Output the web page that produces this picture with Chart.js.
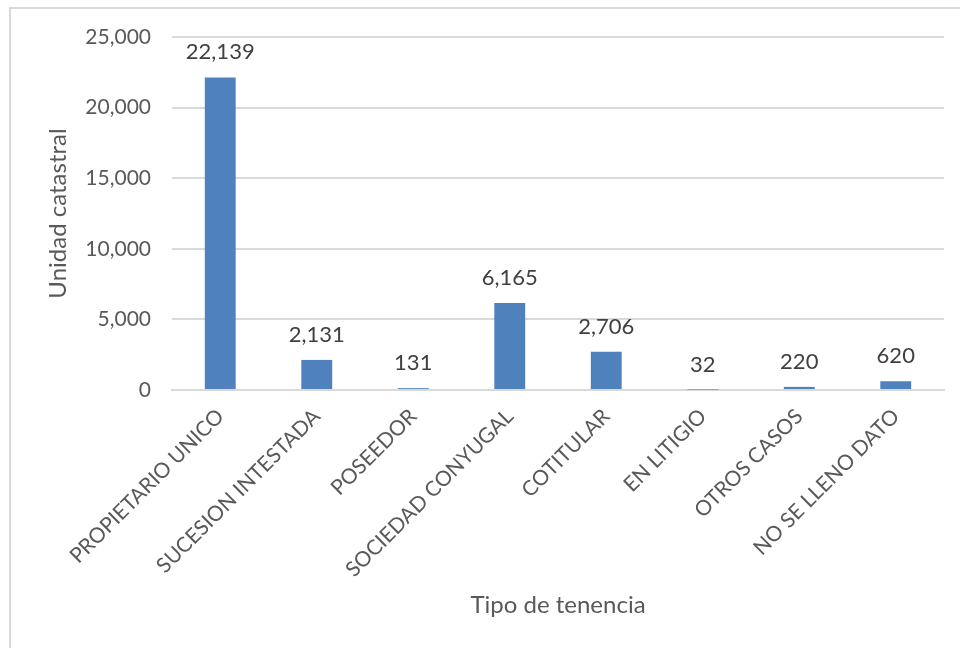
<!DOCTYPE html>
<html>
<head>
<meta charset="utf-8">
<script src="https://cdn.jsdelivr.net/npm/chart.js@4"></script>
<style>
  html, body { margin: 0; padding: 0; background: #fff; }
  #wrap { position: relative; width: 960px; height: 648px; overflow: hidden; }
  #frame { position: absolute; left: 9px; top: 7px; width: 980px; height: 680px; border: 2px solid #d9d9d9; }
  #chart { position: absolute; left: 0; top: 0; }
</style>
</head>
<body>
<div id="wrap">
  <div id="frame"></div>
  <canvas id="chart" width="960" height="648"></canvas>
</div>
<script>
const categories = ["PROPIETARIO UNICO", "SUCESION INTESTADA", "POSEEDOR", "SOCIEDAD CONYUGAL", "COTITULAR", "EN LITIGIO", "OTROS CASOS", "NO SE LLENO DATO"];
const unidades = [22139, 2131, 131, 6165, 2706, 32, 220, 620];
const yTicks = [0, 5000, 10000, 15000, 20000, 25000];

const FONT = "Lato, 'Open Sans', sans-serif";
const fmt = v => v.toLocaleString("en-US");

// value labels above each bar
const barLabels = {
  id: "barLabels",
  afterDatasetsDraw(chart) {
    const ctx = chart.ctx;
    const meta = chart.getDatasetMeta(0);
    ctx.save();
    ctx.font = "22px " + FONT;
    ctx.fillStyle = "#404040";
    ctx.textAlign = "center";
    ctx.textBaseline = "middle";
    meta.data.forEach((bar, i) => {
      ctx.fillText(fmt(unidades[i]), bar.x, bar.y - 25);
    });
    ctx.restore();
  }
};

new Chart(document.getElementById("chart"), {
  type: "bar",
  data: {
    labels: categories,
    datasets: [{
      label: "Unidad catastral",
      data: unidades,
      backgroundColor: "#4f81bd",
      categoryPercentage: 1,
      barPercentage: 0.32
    }]
  },
  options: {
    responsive: false,
    animation: false,
    layout: { padding: { left: 20, top: 37, right: 16, bottom: 0 } },
    plugins: { legend: { display: false }, tooltip: { enabled: false } },
    scales: {
      x: {
        grid: { display: false },
        border: { color: "#d9d9d9", width: 2 },
        ticks: {
          color: "#595959",
          font: { family: FONT, size: 21 },
          minRotation: 45,
          maxRotation: 45,
          padding: 6
        },
        title: {
          display: true,
          text: "Tipo de tenencia",
          color: "#595959",
          font: { family: FONT, size: 24 },
          padding: { top: 0, bottom: 28 }
        },
        afterFit(scale) { scale.height = 258; }
      },
      y: {
        min: 0,
        max: 25000,
        afterBuildTicks(scale) { scale.ticks = yTicks.map(v => ({ value: v })); },
        grid: { color: "#d9d9d9", lineWidth: 2, drawTicks: false },
        border: { display: false },
        ticks: {
          color: "#595959",
          font: { family: FONT, size: 21 },
          padding: 21,
          callback: v => fmt(v)
        },
        title: {
          display: true,
          text: "Unidad catastral",
          color: "#595959",
          font: { family: FONT, size: 24 },
          padding: { top: 24, bottom: 0 }
        },
        afterFit(scale) { scale.width = 152; }
      }
    }
  },
  plugins: [barLabels]
});
</script>
</body>
</html>
